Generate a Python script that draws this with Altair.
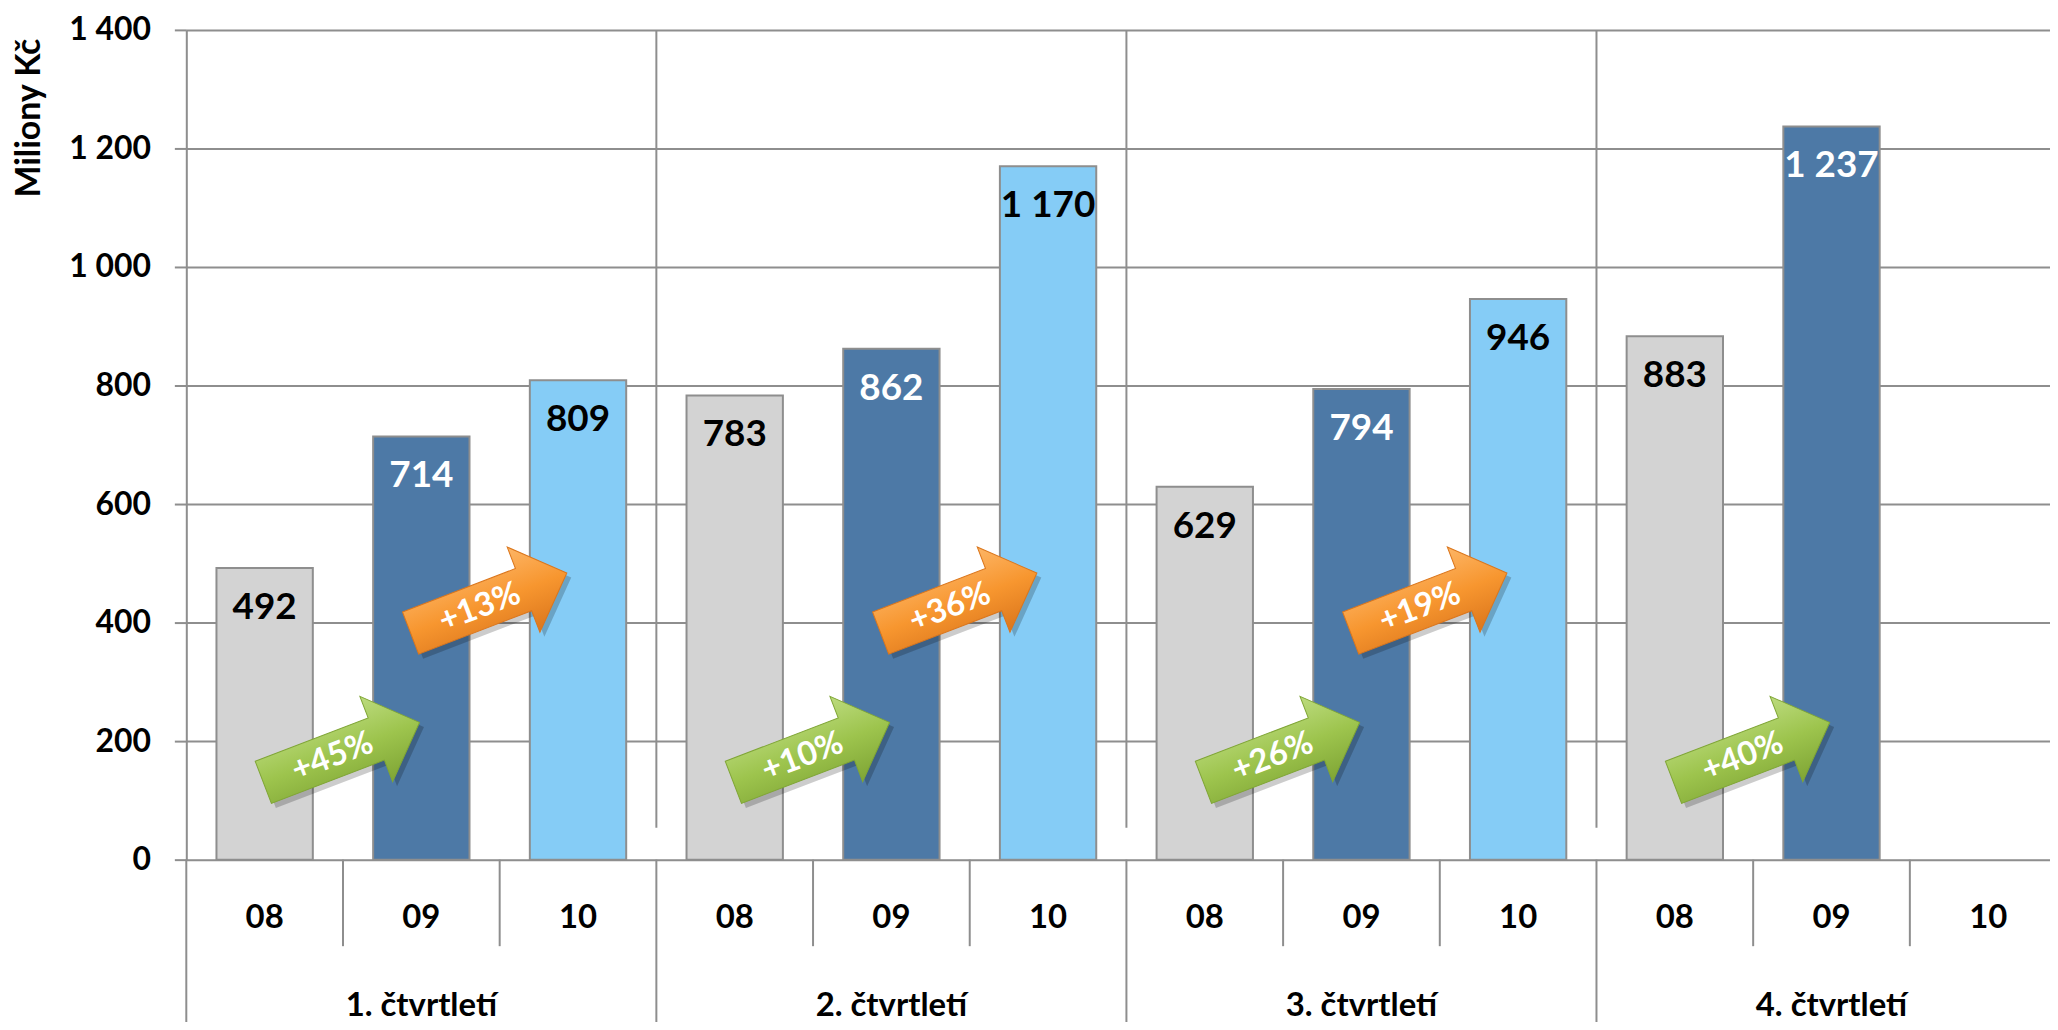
import altair as alt
import pandas as pd

# ---------------- data ----------------
QUARTERS = ["1. čtvrtletí", "2. čtvrtletí", "3. čtvrtletí", "4. čtvrtletí"]
YEARS = ["08", "09", "10"]
SALES_08 = [492, 783, 629, 883]
SALES_09 = [714, 862, 794, 1237]
SALES_10 = [809, 1170, 946, None]
Y_TICKS = [0, 200, 400, 600, 800, 1000, 1200, 1400]
Y_TITLE = "Miliony Kč"

# ---------------- styles ----------------
FONT = "Lato"
BAR_COLORS = ["#D3D3D3", "#4D79A6", "#85CCF6"]
LINE = "#8E8E8E"
GREEN_STOPS = ["#BCDB7E", "#9DC44D", "#7FA535"]
ORANGE_STOPS = ["#FDB565", "#F7962F", "#DB761C"]
ARROW_PATH = "M -1 -0.27 L 0.446 -0.27 L 0.446 -0.546 L 1 0 L 0.446 0.546 L 0.446 0.27 L -1 0.27 Z"
SHADOW_PATH = "M -0.97 -0.2 L 0.476 -0.2 L 0.476 -0.476 L 1.03 0.07 L 0.476 0.616 L 0.476 0.34 L -0.97 0.34 Z"

series = {"08": SALES_08, "09": SALES_09, "10": SALES_10}


def fmt(v):
    return f"{v:,}".replace(",", " ")


rows = []
keys = []
for qi, q in enumerate(QUARTERS):
    for y in YEARS:
        key = f"{qi + 1}-{y}"
        keys.append(key)
        v = series[y][qi]
        rows.append(dict(key=key, quarter=q, year=y, value=v,
                         label=fmt(v) if v is not None else ""))
df = pd.DataFrame(rows)
bars_df = df[df["label"] != ""].copy()

green_rows, orange_rows = [], []
for qi in range(len(QUARTERS)):
    a, b, c = SALES_08[qi], SALES_09[qi], SALES_10[qi]
    if a is not None and b is not None:
        green_rows.append(dict(key=f"{qi + 1}-08", text=f"+{round((b / a - 1) * 100)}%"))
    if b is not None and c is not None:
        orange_rows.append(dict(key=f"{qi + 1}-09", text=f"+{round((c / b - 1) * 100)}%"))
green_df = pd.DataFrame(green_rows)
orange_df = pd.DataFrame(orange_rows)

# ---------------- scales ----------------
STEP = 157.3
xscale = alt.Scale(domain=keys, range=[0, STEP * len(keys)], paddingInner=0, paddingOuter=0)
yscale = alt.Scale(domain=[0, 1400], nice=False, zero=True)

yaxis = alt.Axis(
    values=Y_TICKS, grid=True, gridColor=LINE, gridWidth=2,
    domainColor=LINE, domainWidth=2, tickColor=LINE, tickWidth=2, tickSize=12,
    labelPadding=24, labelFont=FONT, labelFontSize=32, labelFontWeight="bold",
    labelColor="#000000", labelExpr="replace(format(datum.value, ','), ',', ' ')",
    title=Y_TITLE, titleFont=FONT, titleFontSize=34, titleFontWeight="bold",
    titleColor="#000000", titleAngle=270, titleX=-157, titleY=88,
    titleAlign="center", titleBaseline="middle",
)

X = alt.X("key:N", scale=xscale, axis=None)

bars = alt.Chart(bars_df).mark_bar(
    width=alt.RelativeBandSize(0.615), stroke=LINE, strokeWidth=2
).encode(
    x=X,
    y=alt.Y("value:Q", scale=yscale, axis=yaxis),
    color=alt.Color("year:N", scale=alt.Scale(domain=YEARS, range=BAR_COLORS), legend=None),
)

value_labels = alt.Chart(bars_df).mark_text(
    font=FONT, fontSize=37, fontWeight="bold", baseline="middle", align="center", dy=40
).encode(
    x=X,
    y=alt.Y("value:Q"),
    text="label:N",
    color=alt.condition(alt.datum.year == "09", alt.value("#FFFFFF"), alt.value("#000000")),
)

Xstart = alt.X("key:N", scale=xscale, axis=None, bandPosition=0)

quarter_grid = alt.Chart(df[(df["year"] == "08") & (df["key"] != "1-08")]).mark_rule(
    color=LINE, strokeWidth=2
).encode(x=Xstart, y=alt.datum(1400), y2=alt.datum(54))

short_sep = alt.Chart(df[df["year"] != "08"]).mark_rule(color=LINE, strokeWidth=2).encode(
    x=Xstart, y=alt.datum(0), y2=alt.datum(-146)
)
long_sep = alt.Chart(df[df["year"] == "08"]).mark_rule(color=LINE, strokeWidth=2).encode(
    x=Xstart, y=alt.datum(0), y2=alt.datum(-300)
)

cat_labels = alt.Chart(df).mark_text(
    font=FONT, fontSize=33, fontWeight="bold", color="#000000", baseline="middle", align="center"
).encode(x=X, y=alt.datum(-99), text="year:N")

quarter_labels = alt.Chart(df[df["year"] == "09"]).mark_text(
    font=FONT, fontSize=33, fontWeight="bold", color="#000000", baseline="middle", align="center"
).encode(x=X, y=alt.datum(-247), text="quarter:N")


def grad(stops):
    return alt.LinearGradient(
        gradient="linear", x1=0, y1=0, x2=0, y2=1,
        stops=[alt.GradientStop(color=stops[0], offset=0),
               alt.GradientStop(color=stops[1], offset=0.5),
               alt.GradientStop(color=stops[2], offset=1)],
    )


ARROW_SIZE = 168 ** 2
ANGLE = 339


def arrow_layers(data, band_pos, yval, stops):
    xa = alt.X("key:N", scale=xscale, axis=None, bandPosition=band_pos)
    shadow = alt.Chart(data).mark_point(
        shape=SHADOW_PATH, size=ARROW_SIZE, angle=ANGLE, filled=True,
        fill="#000000", opacity=0.2, strokeWidth=0
    ).encode(x=xa, y=alt.datum(yval))
    body = alt.Chart(data).mark_point(
        shape=ARROW_PATH, size=ARROW_SIZE, angle=ANGLE, filled=True,
        fill=grad(stops), opacity=1, stroke=stops[2], strokeWidth=1
    ).encode(x=xa, y=alt.datum(yval))
    txt = alt.Chart(data).mark_text(
        font=FONT, fontSize=33, fontWeight="bold", color="#FFFFFF", angle=ANGLE,
        align="center", baseline="middle", dx=-10, dy=1
    ).encode(x=xa, y=alt.datum(yval), text="text:N")
    return [shadow, body, txt]


layers = [quarter_grid, short_sep, long_sep, bars, value_labels, cat_labels, quarter_labels]
layers += arrow_layers(green_df, 0.99, 181, GREEN_STOPS)
layers += arrow_layers(orange_df, 0.93, 433, ORANGE_STOPS)

chart = alt.layer(*layers).properties(
    width=1871, height=833,
    autosize=alt.AutoSizeParams(type="none"),
    padding={"left": 179, "top": 20, "right": 0, "bottom": 161},
).configure_view(strokeWidth=0).configure(background="#FFFFFF")

chart.save("out.html", embed_options={"renderer": "svg", "actions": False})
